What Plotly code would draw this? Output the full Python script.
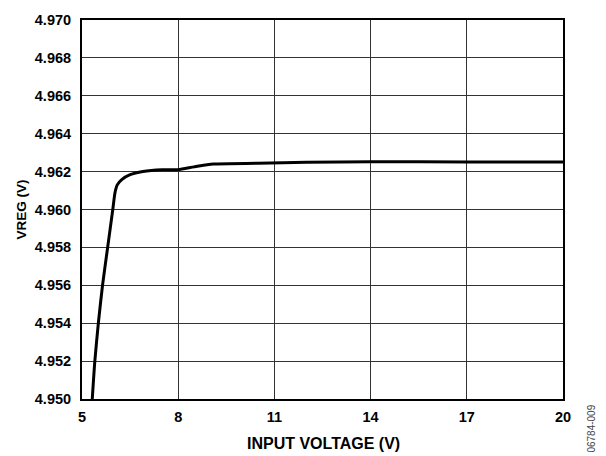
import plotly.graph_objects as go

input_voltage = [5.32, 5.40, 5.51, 5.64, 5.80, 5.96, 6.03, 6.10, 6.24, 6.50, 6.90, 7.50, 8.00, 8.50, 9.10, 10.5, 12.0, 14.0, 17.0, 20.0]
vreg = [4.9500, 4.9520, 4.9540, 4.9560, 4.9580, 4.9600, 4.9609, 4.9613, 4.96158, 4.96184, 4.96201, 4.9621, 4.9621, 4.96225, 4.9624, 4.96244, 4.96249, 4.96252, 4.96251, 4.96251]

x_ticks = [5, 8, 11, 14, 17, 20]
y_ticks = [4.950, 4.952, 4.954, 4.956, 4.958, 4.960, 4.962, 4.964, 4.966, 4.968, 4.970]

FAM = "Liberation Sans, Arial, sans-serif"
W, H = 606, 456
ML, MR, MT, MB = 82, 43, 15, 57

fig = go.Figure()
fig.add_trace(go.Scatter(x=input_voltage, y=vreg, mode="lines",
                         line=dict(color="black", width=3, shape="spline", smoothing=0.6),
                         showlegend=False, hoverinfo="skip"))

fig.update_layout(
    width=W, height=H,
    margin=dict(l=ML, r=MR, t=MT, b=MB),
    plot_bgcolor="white", paper_bgcolor="white",
    font=dict(family=FAM, size=12, color="black"),
    xaxis=dict(range=[5, 20], tickvals=x_ticks, ticktext=[f"<b>{v}</b>" for v in x_ticks],
               showgrid=True, gridcolor="#333333", gridwidth=1,
               showline=True, linecolor="black", linewidth=2, mirror=True,
               ticks="", ticklabelstandoff=4,
               tickfont=dict(size=14.5, family=FAM, color="black"),
               zeroline=False),
    yaxis=dict(range=[4.950, 4.970], tickvals=y_ticks, ticktext=[f"<b>{v:.3f}</b>" for v in y_ticks],
               showgrid=True, gridcolor="#333333", gridwidth=1,
               showline=True, linecolor="black", linewidth=2, mirror=True,
               ticks="", ticklabelstandoff=6,
               tickfont=dict(size=14.5, family=FAM, color="black"),
               zeroline=False),
)

pw = W - ML - MR
ph = H - MT - MB
def px(x):
    return (x - ML) / pw
def py(y):
    return (H - MB - y) / ph

fig.add_annotation(text="<b>INPUT VOLTAGE (V)</b>", x=px(323), y=py(444), xref="paper", yref="paper",
                   showarrow=False, xanchor="center", yanchor="middle",
                   font=dict(size=16, family=FAM, color="black"))
fig.add_annotation(text="<b>VREG (V)</b>", x=px(21), y=py(207), xref="paper", yref="paper",
                   showarrow=False, textangle=-90, xanchor="center", yanchor="middle",
                   font=dict(size=13.5, family=FAM, color="black"))
fig.add_annotation(text="06784-009", x=px(592), y=py(429), xref="paper", yref="paper",
                   showarrow=False, textangle=-90, xanchor="center", yanchor="middle",
                   font=dict(size=10, color="#444444", family=FAM))

fig.write_html("out.html", config={"displayModeBar": False},
               post_script="document.body.style.margin='0';")
